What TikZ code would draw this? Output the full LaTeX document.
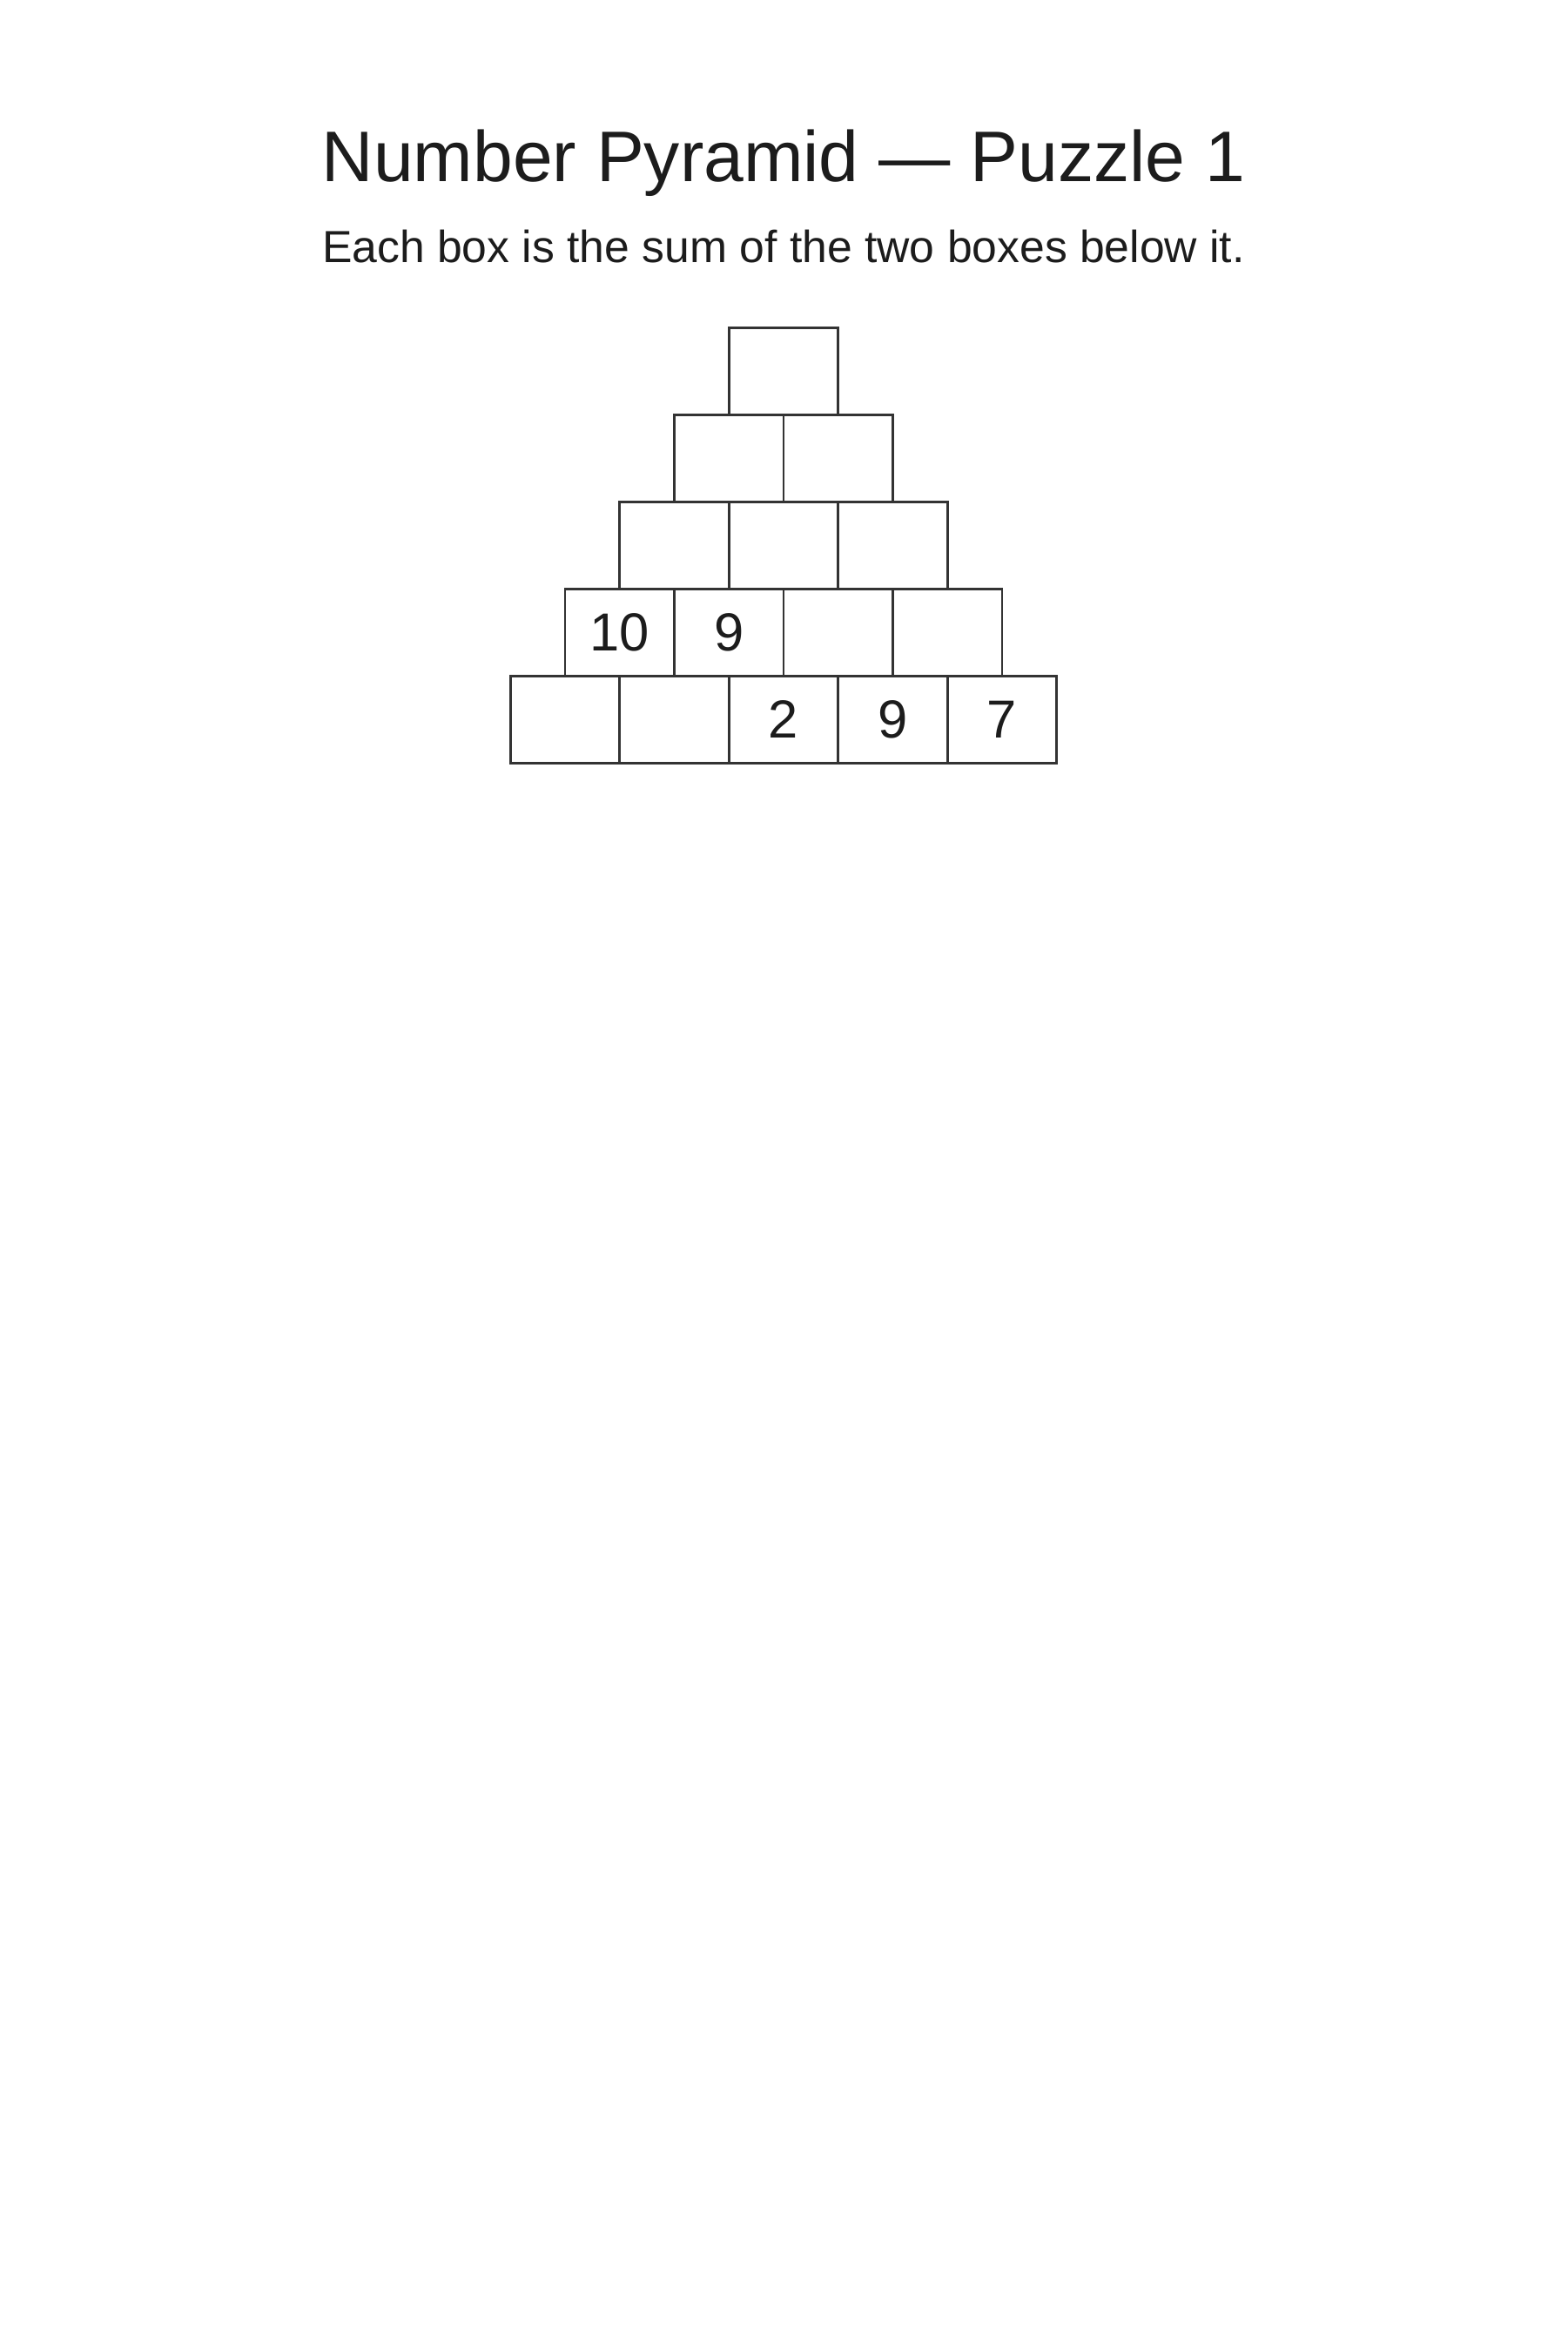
\documentclass[tikz,border=0pt]{standalone}
\usepackage{fontspec}
\setmainfont{Liberation Sans}
\usepackage{xcolor}
\usepackage{tikz}
\usetikzlibrary{positioning}

\definecolor{inkgray}{HTML}{1C1C1C}
\definecolor{linegray}{HTML}{333333}

\begin{document}
\begin{tikzpicture}
    \tikzstyle{cell} = [rectangle, draw=linegray, line width=0.75pt, minimum width=1.255cm, minimum height=1.0cm, inner sep=0pt, text=inkgray, font=\fontsize{17.5}{20}\selectfont]
    \useasboundingbox[fill=white] (0,0) rectangle (18,27);

    % Title
    \node[anchor=base, text=inkgray, font=\fontsize{23.4}{27}\selectfont] (title) at (9,24.91) {Number Pyramid — Puzzle 1};
    \node[anchor=base, text=inkgray, font=\fontsize{14.7}{17}\selectfont] (rule) at (9,23.98) {Each box is the sum of the two boxes below it.};

    % Row 5 (top)
    \node[cell] (r5a) at (9.0,22.735) {};

    % Row 4
    \node[cell] (r4a) at (8.3725,21.735) {};
    \node[cell] (r4b) at (9.6275,21.735) {};

    % Row 3
    \node[cell] (r3a) at (7.745,20.735) {};
    \node[cell] (r3b) at (9.0,20.735) {};
    \node[cell] (r3c) at (10.255,20.735) {};

    % Row 2
    \node[cell] (r2a) at (7.1175,19.735) {10};
    \node[cell] (r2b) at (8.3725,19.735) {9};
    \node[cell] (r2c) at (9.6275,19.735) {};
    \node[cell] (r2d) at (10.8825,19.735) {};

    % Row 1 (base)
    \node[cell] (r1a) at (6.49,18.735) {};
    \node[cell] (r1b) at (7.745,18.735) {};
    \node[cell] (r1c) at (9.0,18.735) {2};
    \node[cell] (r1d) at (10.255,18.735) {9};
    \node[cell] (r1e) at (11.51,18.735) {7};
\end{tikzpicture}
\end{document}
